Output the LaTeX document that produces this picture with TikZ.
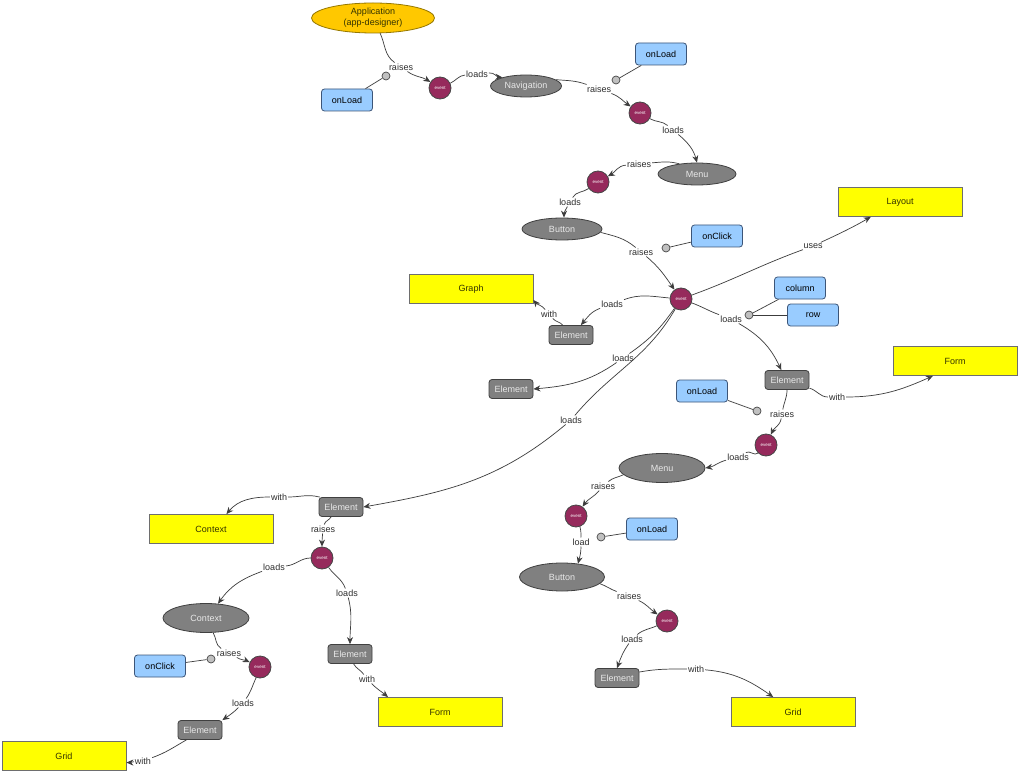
\documentclass[tikz,border=0pt]{standalone}
\usepackage{fontspec}
\setmainfont{Liberation Sans}
\usetikzlibrary{shapes.geometric}
\usetikzlibrary{arrows.meta}

\definecolor{evfill}{RGB}{150,42,92}
\definecolor{evline}{RGB}{70,70,70}
\definecolor{greyfill}{RGB}{128,128,128}
\definecolor{greyline}{RGB}{64,64,64}
\definecolor{greytext}{RGB}{232,232,232}
\definecolor{bluefill}{RGB}{153,204,255}
\definecolor{blueline}{RGB}{60,85,120}
\definecolor{yfill}{RGB}{255,255,0}
\definecolor{yline}{RGB}{110,110,110}
\definecolor{ytext}{RGB}{51,51,0}
\definecolor{appfill}{RGB}{255,200,0}
\definecolor{appline}{RGB}{150,120,0}
\definecolor{pinfill}{RGB}{192,192,192}
\definecolor{pinline}{RGB}{70,70,70}
\definecolor{edge}{RGB}{60,60,60}
\definecolor{lbltext}{RGB}{45,45,45}

\begin{document}
\begin{tikzpicture}[x=1pt,y=1pt,
  font=\fontsize{9}{11}\selectfont,
  event/.style={circle,draw=evline,line width=0.8pt,fill=evfill,minimum size=22pt,inner sep=0pt,text=white,font=\fontsize{4.5}{5}\selectfont},
  oval/.style={ellipse,draw=greyline,line width=0.8pt,fill=greyfill,text=greytext,inner sep=0pt},
  elem/.style={rectangle,rounded corners=3pt,draw=greyline,line width=0.8pt,fill=greyfill,text=greytext,minimum width=44pt,minimum height=19pt,inner sep=0pt},
  hook/.style={rectangle,rounded corners=3pt,draw=blueline,line width=0.8pt,fill=bluefill,minimum width=51pt,minimum height=22pt,inner sep=0pt},
  part/.style={rectangle,draw=yline,line width=0.8pt,fill=yfill,text=ytext,minimum width=124pt,minimum height=29pt,inner sep=0pt},
  pin/.style={circle,draw=pinline,line width=0.7pt,fill=pinfill,minimum size=8pt,inner sep=0pt},
  lbl/.style={fill=white,inner sep=1pt,text=lbltext},
  link/.style={draw=edge,line width=0.7pt},
  arr/.style={link,-{Stealth[length=7pt,width=6pt]}}]

\fill[white] (0,-783) rectangle (1024,0);
\useasboundingbox (0,-783) rectangle (1024,0);

\node[ellipse,draw=appline,line width=0.8pt,fill=appfill,minimum width=123pt,minimum height=30pt,inner sep=0pt,align=center,text=ytext,font=\fontsize{9}{11}\selectfont] (app) at (373,-18) {Application\\(app-designer)};

\node[oval,minimum width=71pt,minimum height=22pt] (nav) at (526,-86) {Navigation};
\node[oval,minimum width=78pt,minimum height=22pt] (menu1) at (697,-174) {Menu};
\node[oval,minimum width=80pt,minimum height=22pt] (button1) at (562,-229) {Button};
\node[oval,minimum width=86pt,minimum height=29pt] (menu2) at (662,-468) {Menu};
\node[oval,minimum width=85pt,minimum height=28pt] (button2) at (562,-577) {Button};
\node[oval,minimum width=86pt,minimum height=29pt] (context) at (206,-618) {Context};

\foreach \n/\x/\y in {ev1/440/88,ev2/640/113,ev3/598/182,ev4/681/299,ev5/766/445,
                      ev6/576/516,ev7/667/621,ev8/322/558,ev9/260/667}
  \node[event] (\n) at (\x,-\y) {event};

\foreach \n/\x/\y in {el1/571/335,el2/787/380,el3/617/678,el4/341/507,
                      el5/511/389,el6/350/654,el7/200/730}
  \node[elem] (\n) at (\x,-\y) {Element};

\foreach \n/\t/\x/\y in {onload1/onLoad/347/100,onload2/onLoad/661/54,onclick1/onClick/717/236,
                         column/column/800/288,row/row/813/315,onload3/onLoad/702/391,
                         onload4/onLoad/652/529,onclick2/onClick/160/666}
  \node[hook] (\n) at (\x,-\y) {\t};

\foreach \n/\t/\x/\y in {layout/Layout/900/202,graph/Graph/471/289,form1/Form/955/361,
                         context1/Context/211/529,form2/Form/440/712,grid1/Grid/793/712,
                         grid2/Grid/64/756}
  \node[part] (\n) at (\x,-\y) {\t};

\foreach \n/\x/\y in {p1/386/76,p2/616/80,p3/666/248,p4/749/315,p5/757/411,p6/601/537,p7/211/659}
  \node[pin] (\n) at (\x,-\y) {};

\foreach \n/\t/\x/\y in {raises1/raises/401/67,loads1/loads/477/74,raises2/raises/599/89,
                         loads2/loads/673/130,raises3/raises/639/164,loads3/loads/570/202,
                         raises4/raises/641/252,uses/uses/813/246,loads4/loads/612/304,
                         with1/with/549/314,loads5/loads/731/319,loads6/loads/623/358,
                         loads7/loads/571/420,with2/with/837/397,raises5/raises/782/414,
                         loads8/loads/738/457,raises6/raises/603/486,load/load/581/542,
                         raises7/raises/629/596,loads9/loads/632/639,with3/with/696/669,
                         with4/with/279/497,raises8/raises/323/529,loads10/loads/274/567,
                         loads11/loads/347/593,with5/with/367/679,raises9/raises/229/653,
                         loads12/loads/243/703,with6/with/143/761}
  \node[lbl] (\n) at (\x,-\y) {\t};

\foreach \a/\b in {onload1/p1,onload2/p2,onclick1/p3,column/p4,row/p4,onload3/p5,onload4/p6,onclick2/p7}
  \draw[link] (\a) -- (\b);

\draw[arr] (app.-65) to[out=-65,in=145] (raises1) to[out=-35,in=148] (ev1);
\draw[arr] (ev1) to[out=25,in=185] (loads1) to[out=5,in=175] (nav.160);
\draw[arr] (nav.12) to[out=-5,in=160] (raises2) to[out=-20,in=145] (ev2);
\draw[arr] (ev2) to[out=-30,in=140] (loads2) to[out=-40,in=105] (menu1.north);
\draw[arr] (menu1.150) to[out=165,in=5] (raises3) to[out=185,in=30] (ev3);
\draw[arr] (ev3) to[out=215,in=60] (loads3) to[out=-120,in=90] (button1.80);
\draw[arr] (button1.-5) to[out=-15,in=140] (raises4) to[out=-40,in=125] (ev4);
\draw[arr] (ev4) to[out=20,in=-160] (uses) to[out=25,in=-150] (layout.207);
\draw[arr] (ev4) to[out=175,in=20] (loads4) to[out=200,in=50] (el1.45);
\draw[arr] (el1.130) to[out=130,in=-50] (with1) to[out=130,in=-50] (graph.-10);
\draw[arr] (ev4) to[out=-20,in=160] (loads5) to[out=-30,in=115] (el2.120);
\draw[arr] (ev4) to[out=235,in=35] (loads6) to[out=215,in=5] (el5.east);
\draw[arr] (ev4) to[out=240,in=50] (loads7) to[out=220,in=10] (el4.east);
\draw[arr] (el2.-20) to[out=-15,in=180] (with2) to[out=0,in=-156] (form1.214);
\draw[arr] (el2.south) to[out=-90,in=80] (raises5) to[out=-100,in=65] (ev5);
\draw[arr] (ev5) to[out=225,in=30] (loads8) to[out=195,in=10] (menu2.east);
\draw[arr] (menu2.190) to[out=205,in=40] (raises6) to[out=230,in=55] (ev6);
\draw[arr] (ev6.-70) to[out=-75,in=90] (load) to[out=-90,in=75] (button2.40);
\draw[arr] (button2.-10) to[out=-20,in=160] (raises7) to[out=-25,in=145] (ev7);
\draw[arr] (ev7) to[out=205,in=40] (loads9) to[out=235,in=70] (el3.north);
\draw[arr] (el3.15) to[out=10,in=180] (with3) to[out=-5,in=145] (grid1.143);
\draw[arr] (el4.155) to[out=165,in=0] (with4) to[out=180,in=50] (context1.44);
\draw[arr] (el4.225) to[out=240,in=75] (raises8) to[out=-95,in=90] (ev8);
\draw[arr] (ev8) to[out=180,in=5] (loads10) to[out=200,in=55] (context.50);
\draw[arr] (ev8) to[out=-55,in=110] (loads11) to[out=-75,in=90] (el6.north);
\draw[arr] (el6.-70) to[out=-60,in=125] (with5) to[out=-45,in=140] (form2.164);
\draw[arr] (context.-64) to[out=-60,in=150] (raises9) to[out=-30,in=155] (ev9);
\draw[arr] (ev9.-110) to[out=-115,in=55] (loads12) to[out=225,in=35] (el7.north east);
\draw[arr] (el7.216) to[out=210,in=20] (with6) to[out=185,in=0] (grid2.-6);
\end{tikzpicture}
\end{document}
